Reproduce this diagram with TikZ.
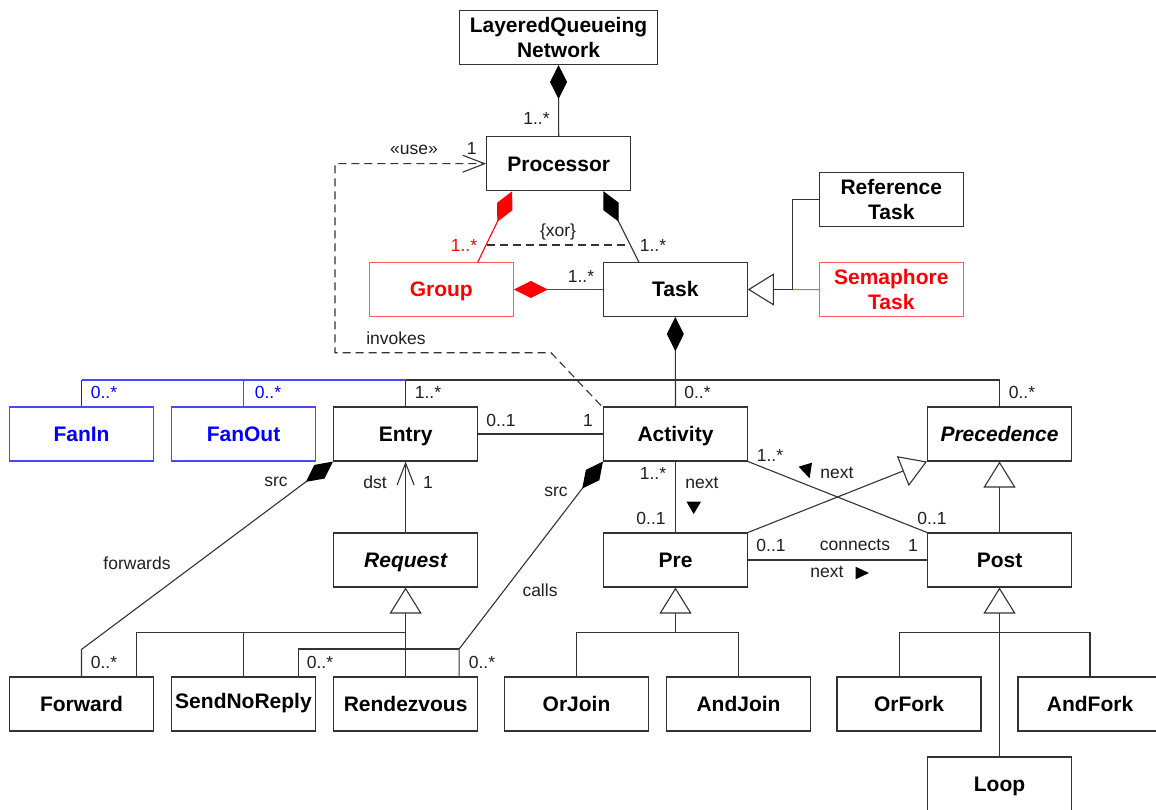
\documentclass[tikz,border=0pt]{standalone}
\usepackage{fontspec}
\setmainfont{Liberation Sans}
\usetikzlibrary{arrows.meta,calc}
\definecolor{lc}{HTML}{333333}
\definecolor{bred}{HTML}{FF5A5A}
\definecolor{tred}{HTML}{FF0000}
\definecolor{bblue}{HTML}{4848FF}
\definecolor{tblue}{HTML}{0000FF}
\begin{document}
\begin{tikzpicture}[x=1pt,y=-1pt,
  UDia/.tip={Kite[length=34pt,width=17pt,inset=17pt,color=black]},
  URDia/.tip={Kite[length=34pt,width=17pt,inset=17pt,color=tred]},
  UTri/.tip={Triangle[length=26pt,width=32pt,fill=white]},
  UBarb/.tip={Straight Barb[length=22pt,width=17pt]},
  line/.style={draw=lc,line width=1.1pt},
  box/.style={draw=lc,line width=1.1pt,minimum width=144pt,minimum height=54pt,inner sep=0pt,
    font=\bfseries\fontsize{21}{25}\selectfont,fill=white},
  one/.style={text height=15pt,text depth=0pt},
  two/.style={align=center},
  rbox/.style={draw=bred,text=tred},
  bbox/.style={draw=bblue,text=tblue},
  lab/.style={font=\fontsize{17.5}{20}\selectfont,text=black!88,inner sep=0pt},
  dashln/.style={line,dash pattern=on 8pt off 5pt}
]
\useasboundingbox (0,0) rectangle (1156,810);

% classes
\node[box,two,minimum width=198pt] (lqn) at (558.5,37.5) {LayeredQueueing\\Network};
\node[box,one] (proc) at (558.7,163.7) {Processor};
\node[box,one,rbox] (grp) at (441.3,289.5) {Group};
\node[box,one] (task) at (675.3,289.5) {Task};
\node[box,two] (ref) at (891.3,199.7) {Reference\\Task};
\node[box,two,rbox] (sem) at (891.3,289.7) {Semaphore\\Task};

\node[box,one,bbox] (fanin) at (81.5,434) {FanIn};
\node[box,one,bbox] (fanout) at (243.5,434) {FanOut};
\node[box,one] (entry) at (405.6,434) {Entry};
\node[box,one] (act) at (675.5,434) {Activity};
\node[box,one,font=\bfseries\itshape\fontsize{21}{25}\selectfont] (prec) at (999.5,434) {Precedence};

\node[box,one,font=\bfseries\itshape\fontsize{21}{25}\selectfont] (req) at (405.6,560) {Request};
\node[box,one] (pre) at (675.5,560) {Pre};
\node[box,one] (post) at (999.5,560) {Post};

\node[box,one] (fwd) at (81.5,704) {Forward};
\node[box,one,text depth=6pt] (snr) at (243.5,704) {SendNoReply};
\node[box,one] (rdv) at (405.6,704) {Rendezvous};
\node[box,one] (orjoin) at (576.5,704) {OrJoin};
\node[box,one] (andjoin) at (738.5,704) {AndJoin};
\node[box,one] (orfork) at (909,704) {OrFork};
\node[box,one] (andfork) at (1090,704) {AndFork};
\node[box,one] (loop) at (999.5,784) {Loop};

% LQN - Processor
\draw[line,{UDia}-] (lqn.south) -- (proc.north);
% Processor - Group / Task
\draw[line,draw=tred,{URDia}-] ($(proc.south west)+(26,0)$) -- ($(grp.north east)+(-36,0)$);
\draw[line,{UDia}-] ($(proc.south west)+(117.3,0)$) -- ($(task.north west)+(36,0)$);
\coordinate (xa) at (487,245);
\coordinate (xb) at (627,245);
\draw[dashln] (xa) -- (xb);
% Group - Task
\draw[line,draw=tred,{URDia}-] (grp.east) -- (task.west);
% Task generalization
\coordinate (tj) at (792.7,289.5);
\draw[line,draw=bred] (sem.west) -- (tj);
\draw[line,-{UTri}] (tj) -- (task.east);
\draw[line] (ref.west) -| (tj);

% Task - Activity composition and branches
\draw[line,{UDia}-] (task.south) -- (act.north);
\coordinate (hb) at (405.6,380);
\draw[line] (entry.north) -- (hb) -- (hb -| prec.north) -- (prec.north);
\draw[line,draw=bblue] (hb) -- (hb -| fanin.north);
\draw[line] (fanin.north) -- (hb -| fanin.north);
\draw[line,draw=bblue] (fanout.north) -- (hb -| fanout.north);

% invokes / use
\coordinate (u1) at (551,352.7);
\coordinate (u2) at (335,352.7);
\draw[dashln,-{UBarb}] ($(act.north west)+(-2,-1)$) -- (u1) -- (u2) -- (u2 |- proc.west) -- (proc.west);

% Entry - Activity
\draw[line] (entry.east) -- (act.west);
% Request - Entry
\draw[line,-{UBarb}] (req.north) -- (entry.south);
% Entry - Forward
\coordinate (fj) at ($(fwd.north)+(0,-27)$);
\draw[line,{UDia}-] (entry.south west) -- (fj) -- (fwd.north);
% Activity - Rendezvous / SendNoReply
\coordinate (cj) at ($(rdv.north east)+(-19,-27.5)$);
\draw[line,{UDia}-] (act.south west) -- (cj) -- (cj |- rdv.north);
\draw[line] (cj) -| ($(snr.north east)+(-18,0)$);
% Request generalization
\coordinate (rg) at ($(req.south)+(0,45)$);
\draw[line,-{UTri}] (rdv.north) -- (req.south);
\draw[line] (rg) -| ($(fwd.north east)+(-17.6,0)$);
\draw[line] (snr.north) -- (snr.north |- rg);

% Activity - Pre / Post
\draw[line] (act.south) -- (pre.north);
\draw[line] (act.south east) -- (post.north west);
\draw[line,-{UTri}] (pre.north east) -- (prec.south west);
\draw[line,-{UTri}] (post.north) -- (prec.south);
\draw[line] (pre.east) -- (post.west);

% Pre generalization
\coordinate (pg) at ($(pre.south)+(0,45)$);
\draw[line,-{UTri}] (pg) -- (pre.south);
\draw[line] (orjoin.north) |- (pg) -| (andjoin.north);
% Post generalization
\coordinate (qg) at ($(post.south)+(0,45)$);
\draw[line,-{UTri}] (loop.north) -- (post.south);
\draw[line] ($(orfork.north west)+(63,0)$) |- (qg) -| (andfork.north);

% labels
\node[lab] (l1) at (536.5,118) {1..*};
\node[lab] (l2) at (414,150) {«use»};
\node[lab] (l3) at (471.7,148) {1};
\node[lab] (l4) at (558,231.5) {\{xor\}};
\node[lab,text=tred] (l5) at (464,245) {1..*};
\node[lab] (l6) at (653,245) {1..*};
\node[lab] (l7) at (581,276) {1..*};
\node[lab] (l8) at (396,338) {invokes};
\node[lab,text=tblue] (l9) at (104,392) {0..*};
\node[lab,text=tblue] (l10) at (268,392) {0..*};
\node[lab] (l11) at (428,392) {1..*};
\node[lab] (l12) at (697.5,392) {0..*};
\node[lab] (l13) at (1022,392) {0..*};
\node[lab] (l14) at (501,420) {0..1};
\node[lab] (l15) at (588,420) {1};
\node[lab] (l16) at (276,482) {src};
\node[lab] (l17) at (375,482) {dst};
\node[lab] (l18) at (428,482) {1};
\node[lab] (l19) at (556,492) {src};
\node[lab] (l20) at (137,563) {forwards};
\node[lab] (l21) at (540,590) {calls};
\node[lab] (l22) at (104,662) {0..*};
\node[lab] (l23) at (320,662) {0..*};
\node[lab] (l24) at (482,662) {0..*};
\node[lab] (l25) at (653,473) {1..*};
\node[lab] (l26) at (702,482.7) {next};
\node[lab] (l27) at (651,518.7) {0..1};
\node[lab] (l28) at (770,455) {1..*};
\node[lab] (l29) at (837,473) {next};
\node[lab] (l30) at (932,518.7) {0..1};
\node[lab] (l31) at (771,545) {0..1};
\node[lab] (l32) at (855,545) {connects};
\node[lab] (l33) at (913,545) {1};
\node[lab] (l34) at (827,572.3) {next};

% direction triangles
\fill[black] (686.5,501.7) -- (701,501.7) -- (693.7,514) -- cycle;
\fill[black] (798.6,466.7) -- (812,462.7) -- (809.6,478.3) -- cycle;
\fill[black] (855.5,566.7) -- (869,573) -- (855.5,579.3) -- cycle;
\end{tikzpicture}
\end{document}
